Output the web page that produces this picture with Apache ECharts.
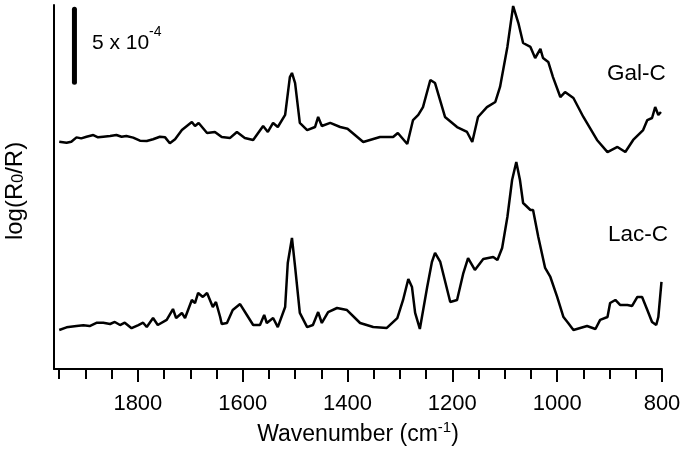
<!DOCTYPE html>
<html>
<head>
<meta charset="utf-8">
<script src="https://cdn.jsdelivr.net/npm/echarts@6/dist/echarts.min.js"></script>
<style>
html,body{margin:0;padding:0;background:#fff;}
#c{width:685px;height:450px;}
</style>
</head>
<body>
<div id="c"></div>
<script>
// Wavenumbers (cm-1) and log(R0/R) values in units of 1e-4 (offset traces)
var galWn = [1950,1936,1927,1917,1908,1898,1885,1876,1866,1853,1841,1831,1822,1809,1796,1783,1771,1758,1748,1739,1729,1716,1697,1691,1684,1668,1653,1640,1624,1611,1596,1580,1561,1552,1542,1533,1519,1510,1506,1500,1491,1477,1462,1456,1449,1433,1414,1400,1370,1338,1313,1304,1286,1275,1265,1256,1242,1233,1214,1191,1179,1172,1162,1151,1134,1118,1109,1095,1084,1074,1065,1051,1042,1032,1027,1017,1008,994,985,969,950,924,904,885,870,855,836,828,819,813,807,802];
var galVal = [15.61,15.54,15.61,15.91,15.84,15.95,16.07,15.91,15.95,16.00,16.07,15.95,16.00,15.89,15.68,15.66,15.78,15.95,15.91,15.50,15.78,16.41,16.96,16.69,16.90,16.21,16.28,15.93,15.87,16.28,15.87,15.73,16.69,16.28,16.90,16.62,17.45,20.05,20.33,19.64,16.90,16.41,16.62,17.31,16.69,16.90,16.62,16.50,15.59,15.93,15.93,16.21,15.45,17.10,17.45,17.99,19.85,19.64,17.31,16.62,16.41,16.28,15.59,17.31,17.99,18.34,19.37,22.12,24.93,23.76,22.39,22.12,21.36,21.98,21.36,21.09,20.05,18.68,19.02,18.61,17.31,15.73,14.90,15.25,14.90,15.73,16.41,17.10,17.24,17.99,17.45,17.65];

var lacWn = [1950,1936,1917,1904,1892,1878,1866,1853,1844,1834,1825,1812,1799,1790,1783,1771,1762,1745,1733,1727,1716,1710,1697,1691,1685,1676,1668,1657,1651,1643,1640,1630,1619,1605,1592,1580,1567,1559,1554,1542,1533,1519,1514,1506,1500,1491,1477,1466,1456,1449,1437,1420,1401,1376,1351,1325,1305,1294,1284,1277,1271,1262,1248,1239,1233,1223,1204,1191,1179,1170,1157,1141,1122,1114,1105,1095,1086,1078,1071,1065,1051,1046,1036,1023,1013,1000,988,979,969,943,927,918,904,899,889,880,866,857,847,838,828,819,811,807,801];
var lacVal = [2.68,2.86,2.95,3.00,2.95,3.18,3.18,3.09,3.23,3.02,3.18,2.80,3.02,3.18,2.88,3.50,3.02,3.37,4.12,3.50,3.85,3.50,4.74,4.53,5.22,4.95,5.22,4.26,4.60,3.57,3.09,3.16,4.05,4.46,3.71,3.02,3.02,3.71,3.16,3.50,2.88,4.26,7.28,9.00,7.01,3.85,2.88,3.02,3.91,3.16,3.91,4.19,4.05,3.16,2.88,2.82,3.50,4.74,6.18,5.63,3.85,2.75,5.63,7.35,7.97,7.35,4.60,4.74,6.59,7.62,6.80,7.55,7.69,7.49,8.31,10.44,12.98,14.22,12.98,11.40,10.92,10.92,9.07,6.94,6.32,4.95,3.57,3.16,2.68,2.95,2.75,3.37,3.57,4.53,4.74,4.40,4.40,4.33,4.95,4.95,4.05,3.23,3.02,3.57,5.98];

// Scale bar: 5 x 10^-4
var scaleWn = [1921,1921];
var scaleVal = [19.7,24.7];

var majorTicks = [800,1000,1200,1400,1600,1800];
var minorTicks = [850,900,950,1050,1100,1150,1250,1300,1350,1450,1500,1550,1650,1700,1750,1850,1900,1950];

function zip(a,b){return a.map(function(v,i){return [v,b[i]];});}

var FONT = '"Liberation Sans", Arial, sans-serif';
var chart = echarts.init(document.getElementById('c'));
chart.setOption({
  animation:false,
  backgroundColor:'#fff',
  grid:{left:54,right:23,top:5,bottom:81,outerBoundsMode:'none',containLabel:false},
  xAxis:[{
    type:'value', min:800, max:1960, inverse:true,
    splitLine:{show:false},
    axisLine:{show:true,onZero:false,lineStyle:{color:'#000',width:2}},
    axisTick:{show:true,length:13,lineStyle:{color:'#000',width:2},customValues:majorTicks},
    axisLabel:{show:true,customValues:majorTicks,margin:24,color:'#000',fontSize:22,fontFamily:FONT,
      formatter:function(v){return String(v);}},
    name:'{n|Wavenumber (cm}{s|-1}{n|)}',
    nameLocation:'middle', nameGap:49,
    nameTextStyle:{color:'#000',fontFamily:FONT,rich:{
      n:{fontSize:23,fontFamily:FONT,color:'#000',verticalAlign:'bottom'},
      s:{fontSize:15,fontFamily:FONT,color:'#000',verticalAlign:'bottom',padding:[0,0,11,0]}
    }}
  },{
    type:'value', min:800, max:1960, inverse:true, position:'bottom',
    splitLine:{show:false},
    axisLine:{show:false,onZero:false},
    axisTick:{show:true,length:10,lineStyle:{color:'#000',width:2},customValues:minorTicks},
    axisLabel:{show:false}
  }],
  yAxis:{
    type:'value', min:0, max:25,
    splitLine:{show:false},
    axisLine:{show:true,onZero:false,lineStyle:{color:'#000',width:2}},
    axisTick:{show:false},
    axisLabel:{show:false},
    name:'{n|log(R}{s|0}{n|/R)}',
    nameLocation:'middle', nameGap:27, nameRotate:90,
    nameTextStyle:{color:'#000',fontFamily:FONT,padding:[0,8,0,0],rich:{
      n:{fontSize:24,fontFamily:FONT,color:'#000'},
      s:{fontSize:16,fontFamily:FONT,color:'#000',verticalAlign:'bottom'}
    }}
  },
  series:[
    {name:'Gal-C',type:'line',xAxisIndex:0,data:zip(galWn,galVal),showSymbol:false,symbol:'none',lineStyle:{color:'#000',width:2.5}},
    {name:'Lac-C',type:'line',xAxisIndex:0,data:zip(lacWn,lacVal),showSymbol:false,symbol:'none',lineStyle:{color:'#000',width:2.5}},
    {name:'scale',type:'line',xAxisIndex:0,data:zip(scaleWn,scaleVal),showSymbol:false,symbol:'none',lineStyle:{color:'#000',width:5,cap:'round'}}
  ],
  graphic:[
    {type:'text',left:92,top:33,style:{text:'5 x 10',fontSize:21,fontFamily:FONT,fill:'#000'}},
    {type:'text',left:149,top:25,style:{text:'-4',fontSize:14,fontFamily:FONT,fill:'#000'}},
    {type:'text',left:607,top:62,style:{text:'Gal-C',fontSize:22.5,fontFamily:FONT,fill:'#000'}},
    {type:'text',left:608,top:223,style:{text:'Lac-C',fontSize:22.5,fontFamily:FONT,fill:'#000'}}
  ]
});
</script>
</body>
</html>
